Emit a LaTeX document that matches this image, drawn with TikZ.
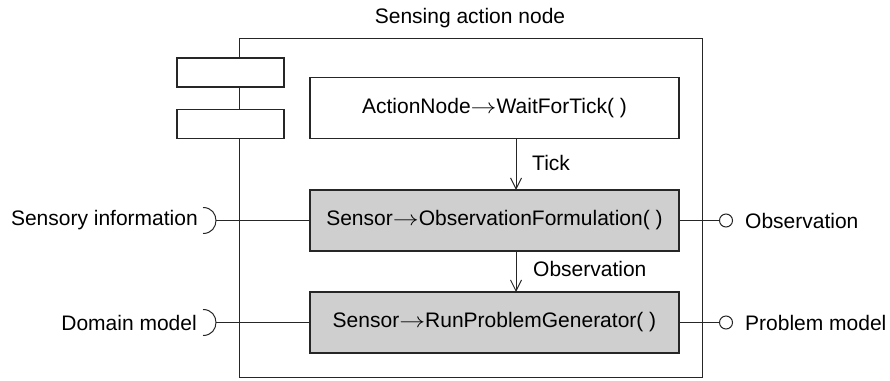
\documentclass[tikz,border=0pt]{standalone}
\usepackage{fontspec}
\setmainfont{Liberation Sans}
\usetikzlibrary{arrows.meta}
\newcommand{\callarrow}{\scalebox{1.25}[1]{$\rightarrow$}}
\begin{document}
\begin{tikzpicture}[x=1pt,y=-1pt,
  every node/.style={font=\fontsize{21}{24}\selectfont, inner sep=0pt},
  frame/.style={draw=black!85, line width=1.3pt},
  opbox/.style={frame, minimum width=369pt, minimum height=61pt},
  sensor/.style={opbox, fill=black!19},
  tab/.style={frame, fill=white, minimum width=107pt, minimum height=29pt},
  wire/.style={draw=black!85, line width=1pt},
  flow/.style={wire, -{Straight Barb[length=11pt,width=11pt,line width=1pt]}},
  lbl/.style={anchor=west},
  rlbl/.style={anchor=east}]
  \useasboundingbox (0,0) rectangle (890,380);

  % component frame and its tabs
  \node[frame, minimum width=463pt, minimum height=339pt, anchor=north west] (comp) at (239,38) {};
  \node (title) at (470,18) {Sensing action node};
  \node[tab] (tab1) at (230.5,72.5) {};
  \node[tab] (tab2) at (230.5,124) {};

  % operations
  \node[opbox] (wait) at (494.5,108) {ActionNode\callarrow WaitForTick( )};
  \node[sensor] (obs) at (494.5,220.5) {Sensor\callarrow ObservationFormulation( )};
  \node[sensor] (gen) at (494.5,322.5) {Sensor\callarrow RunProblemGenerator( )};

  % internal flow
  \coordinate (w1) at (516,139);
  \coordinate (w2) at (516,190);
  \coordinate (o1) at (516,251);
  \coordinate (o2) at (516,292);
  \draw[flow] (w1) -- (w2);
  \draw[flow] (o1) -- (o2);
  \node[lbl] (tick) at (532,163) {Tick};
  \node[lbl] (obslbl) at (533,269) {Observation};

  % required interfaces (sockets)
  \coordinate (s1) at (216,220.5);
  \coordinate (s2) at (216,322.5);
  \draw[wire] (s1) -- (obs.west);
  \draw[wire] (s2) -- (gen.west);
  \draw[wire] (s1) ++(-13,-13) .. controls +(17.3,0) and +(17.3,0) .. ++(0,26);
  \draw[wire] (s2) ++(-13,-13) .. controls +(17.3,0) and +(17.3,0) .. ++(0,26);
  \node[rlbl] (sens) at (198,220.5) {Sensory information};
  \node[rlbl] (dom) at (197,322.5) {Domain model};

  % provided interfaces (lollipops)
  \node[wire, circle, minimum size=13pt, fill=white] (b1) at (726,220.5) {};
  \node[wire, circle, minimum size=13pt, fill=white] (b2) at (726,322.5) {};
  \draw[wire] (obs.east) -- (b1);
  \draw[wire] (gen.east) -- (b2);
  \node[lbl] (obsout) at (745,220.5) {Observation};
  \node[lbl] (prob) at (745,322.5) {Problem model};
\end{tikzpicture}
\end{document}
